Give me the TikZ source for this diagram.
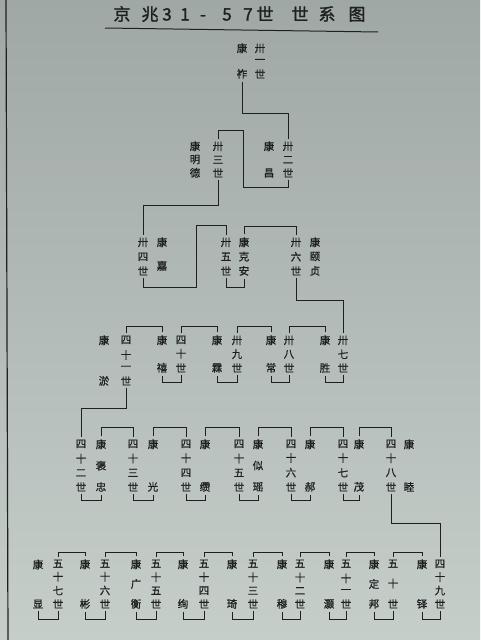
\documentclass[tikz,border=0pt]{standalone}
\usepackage{fontspec}
\newfontfamily\cjk{Noto Sans CJK SC}[FakeBold=0.8]
\newfontfamily\cjkb{Noto Sans CJK SC}[FakeBold=1.5]
\definecolor{paperTop}{RGB}{160,168,166}
\definecolor{paperBot}{RGB}{198,206,202}
\definecolor{ink}{RGB}{30,32,32}
\newcommand\vv{\par\vfill}
\newcommand\vcol[2]{\parbox[c][#1][s]{14pt}{\offinterlineskip\centering #2}}
\tikzset{
  col/.style={inner sep=0pt, outer sep=3pt, text=ink, font=\cjk\fontsize{10.5}{10.5}\selectfont},
  link/.style={draw=ink, line width=1pt},
  ttl/.style={inner sep=0pt, anchor=base, text=ink, font=\cjkb\fontsize{17}{17}\selectfont}
}
\begin{document}
\begin{tikzpicture}[x=1pt,y=-1pt]
\useasboundingbox (0,0) rectangle (480,640);
\shade[top color=paperTop, bottom color=paperBot] (0,0) rectangle (480,640);
% left edge of the sheet
\draw[ink, line width=1.2pt] (6,0) -- (8,640);
% title
\foreach \x/\c [count=\i] in {122/京,150/兆,167/3,185/1,203/-,227/5,248/7,265/世,300/世,327/系,357/图}
  \node[ttl] (t\i) at (\x,20.5) {\c};
\draw[ink, line width=1pt] (105,28) -- (378,32);

% generation 31-36
\node[col] (g31) at (260,61) {\vcol{34.5pt}{卅\vv 一\vv 世}};
\node[col] (n31) at (242,61) {\vcol{34.5pt}{康\vv 祚}};
\node[col] (g32) at (288,159.5) {\vcol{35.5pt}{卅\vv 二\vv 世}};
\node[col] (n32) at (269,159.5) {\vcol{35.5pt}{康\vv 昌}};
\node[col] (g33) at (218,159.5) {\vcol{35.5pt}{卅\vv 三\vv 世}};
\node[col] (n33) at (195,159.5) {\vcol{35.5pt}{康\vv 明\vv 德}};
\node[col] (g34) at (143,256.5) {\vcol{37.5pt}{卅\vv 四\vv 世}};
\node[col] (n34) at (162,254) {\vcol{32.5pt}{康\vv 嘉}};
\node[col] (g35) at (226,256.5) {\vcol{37.5pt}{卅\vv 五\vv 世}};
\node[col] (n35) at (244,256.5) {\vcol{37.5pt}{康\vv 克\vv 安}};
\node[col] (g36) at (296,256.5) {\vcol{37.5pt}{卅\vv 六\vv 世}};
\node[col] (n36) at (315,256.5) {\vcol{37.5pt}{康\vv 颐\vv 贞}};

% generation 37-41
\node[col] (g37) at (343,354) {\vcol{36.5pt}{卅\vv 七\vv 世}};
\node[col] (n37) at (325,354) {\vcol{36.5pt}{康\vv 胜}};
\node[col] (g38) at (289,354) {\vcol{36.5pt}{卅\vv 八\vv 世}};
\node[col] (n38) at (271,354) {\vcol{36.5pt}{康\vv 常}};
\node[col] (g39) at (237,354) {\vcol{36.5pt}{卅\vv 九\vv 世}};
\node[col] (n39) at (217,354) {\vcol{36.5pt}{康\vv 霖}};
\node[col] (g40) at (181,354) {\vcol{36.5pt}{四\vv 十\vv 世}};
\node[col] (n40) at (162,354) {\vcol{36.5pt}{康\vv 禧}};
\node[col] (g41) at (126,360.5) {\vcol{49.5pt}{四\vv 十\vv 一\vv 世}};
\node[col] (n41) at (104,360.5) {\vcol{49.5pt}{康\vv 淤}};

% generation 42-48
\node[col] (g42) at (81,465.5) {\vcol{51.5pt}{四\vv 十\vv 二\vv 世}};
\node[col] (n42) at (101,465.5) {\vcol{51.5pt}{康\vv 褒\vv 忠}};
\node[col] (g43) at (133,465.5) {\vcol{51.5pt}{四\vv 十\vv 三\vv 世}};
\node[col] (n43) at (153,465.5) {\vcol{51.5pt}{康\vv 光}};
\node[col] (g44) at (186,465.5) {\vcol{51.5pt}{四\vv 十\vv 四\vv 世}};
\node[col] (n44) at (205,465.5) {\vcol{51.5pt}{康\vv 缵}};
\node[col] (g45) at (239,465.5) {\vcol{51.5pt}{四\vv 十\vv 五\vv 世}};
\node[col] (n45) at (258,465.5) {\vcol{51.5pt}{康\vv 似\vv 瑶}};
\node[col] (g46) at (291,465.5) {\vcol{51.5pt}{四\vv 十\vv 六\vv 世}};
\node[col] (n46) at (310,465.5) {\vcol{51.5pt}{康\vv 郝}};
\node[col] (g47) at (343,465.5) {\vcol{51.5pt}{四\vv 十\vv 七\vv 世}};
\node[col] (n47) at (359,465.5) {\vcol{51.5pt}{康\vv 茂}};
\node[col] (g48) at (391,465.5) {\vcol{51.5pt}{四\vv 十\vv 八\vv 世}};
\node[col] (n48) at (409,465.5) {\vcol{51.5pt}{康\vv 睦}};

% generation 49-57
\node[col] (g49) at (440,584) {\vcol{48.5pt}{四\vv 十\vv 九\vv 世}};
\node[col] (n49) at (422,584) {\vcol{48.5pt}{康\vv 铎}};
\node[col] (g50) at (393,584) {\vcol{48.5pt}{五\vv 十\vv 世}};
\node[col] (n50) at (374,584) {\vcol{48.5pt}{康\vv 定\vv 邦}};
\node[col] (g51) at (346,584) {\vcol{48.5pt}{五\vv 十\vv 一\vv 世}};
\node[col] (n51) at (329,584) {\vcol{48.5pt}{康\vv 灏}};
\node[col] (g52) at (300,584) {\vcol{48.5pt}{五\vv 十\vv 二\vv 世}};
\node[col] (n52) at (282,584) {\vcol{48.5pt}{康\vv 穆}};
\node[col] (g53) at (253,584) {\vcol{48.5pt}{五\vv 十\vv 三\vv 世}};
\node[col] (n53) at (232,584) {\vcol{48.5pt}{康\vv 琦}};
\node[col] (g54) at (204,584) {\vcol{48.5pt}{五\vv 十\vv 四\vv 世}};
\node[col] (n54) at (183,584) {\vcol{48.5pt}{康\vv 绚}};
\node[col] (g55) at (156,584) {\vcol{48.5pt}{五\vv 十\vv 五\vv 世}};
\node[col] (n55) at (136,584) {\vcol{48.5pt}{康\vv 广\vv 衡}};
\node[col] (g56) at (105,584) {\vcol{48.5pt}{五\vv 十\vv 六\vv 世}};
\node[col] (n56) at (85,584) {\vcol{48.5pt}{康\vv 彬}};
\node[col] (g57) at (58,584) {\vcol{48.5pt}{五\vv 十\vv 七\vv 世}};
\node[col] (n57) at (38,584) {\vcol{48.5pt}{康\vv 显}};

% connectors 31-37
\draw[link] (n31.south) -- (n31.south |- 0,113) -| (g32.north);
\draw[link] (g32.south) -- (g32.south |- 0,187) -- (243,187) -- (243,130) -| (g33.north);
\draw[link] (g33.south) -- (g33.south |- 0,205) -| (g34.north);
\draw[link] (g34.south) -- (g34.south |- 0,287) -- (196,287) -- (196,225) -| (g35.north);
\draw[link] (g35.south) -- (g35.south |- 0,287) -| (n35.south);
\draw[link] (n35.north) -- (n35.north |- 0,226) -| (g36.north);
\draw[link] (g36.south) -- (g36.south |- 0,300) -| (g37.north);

% connectors 37-42
\foreach \a/\b in {37/38,38/39,39/40,40/41}{
  \draw[link] (g\a.south) -- (g\a.south |- 0,382) -| (n\a.south);
  \draw[link] (n\a.north) -- (n\a.north |- 0,326) -| (g\b.north);
}
\draw[link] (g41.south) -- (g41.south |- 0,408) -| (g42.north);

% connectors 42-49
\foreach \a/\b in {42/43,43/44,44/45,45/46,46/47,47/48}{
  \draw[link] (g\a.south) -- (g\a.south |- 0,500) -| (n\a.south);
  \draw[link] (n\a.north) -- (n\a.north |- 0,427) -| (g\b.north);
}
\draw[link] (g48.south) -- (g48.south |- 0,523) -| (g49.north);

% connectors 49-57
\foreach \a/\b in {49/50,50/51,51/52,52/53,53/54,54/55,55/56,56/57}{
  \draw[link] (g\a.south) -- (g\a.south |- 0,619) -| (n\a.south);
  \draw[link] (n\a.north) -- (n\a.north |- 0,552) -| (g\b.north);
}
\draw[link] (g57.south) -- (g57.south |- 0,619) -| (n57.south);
\end{tikzpicture}
\end{document}
